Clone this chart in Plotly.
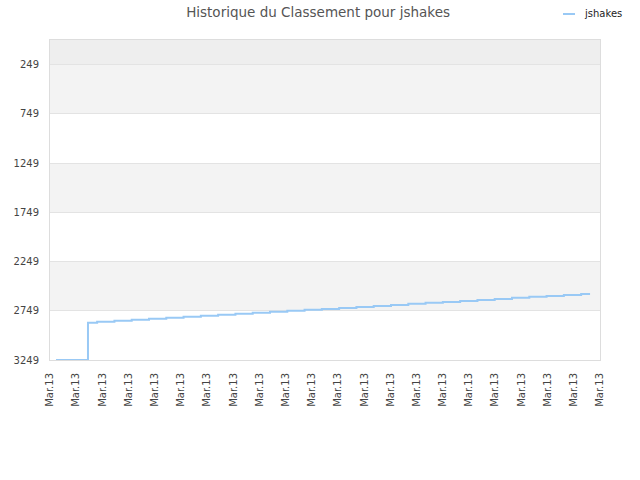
import plotly.graph_objects as go

# ---- data ----
x_pos = [0.23, 1.45, 1.80, 2.46, 3.12, 3.78, 4.44, 5.10, 5.76, 6.42, 7.08,
         7.74, 8.40, 9.06, 9.72, 10.38, 11.04, 11.70, 12.36, 13.02, 13.68,
         14.34, 15.00, 15.66, 16.32, 16.98, 17.64, 18.30, 18.96, 19.62,
         20.28, 20.62]
rank = [3249, 2871, 2861, 2851, 2841, 2831, 2820, 2810, 2800, 2790, 2780,
        2770, 2760, 2750, 2740, 2730, 2720, 2710, 2700, 2690, 2679, 2669,
        2659, 2649, 2639, 2629, 2618, 2608, 2598, 2588, 2578, 2578]
x_ticks = list(range(22))
x_labels = ["Mar.13"] * 22
y_ticks = [249, 749, 1249, 1749, 2249, 2749, 3249]
series_name = "jshakes"
title = "Historique du Classement pour jshakes"

FONT = "DejaVu Sans"
LINE_COLOR = "#99c9f5"

fig = go.Figure()
fig.add_trace(go.Scatter(
    x=x_pos, y=rank, mode="lines", name=series_name, showlegend=False,
    line=dict(color=LINE_COLOR, width=2, shape="hv"),
))

# alternating bands
bands = [(0, 249, "#eeeeee"), (249, 749, "#f3f3f3"), (1249, 1749, "#f3f3f3"),
         (2249, 2749, "#f3f3f3")]
for y0, y1, c in bands:
    fig.add_shape(type="rect", xref="paper", x0=0, x1=1, yref="y", y0=y0, y1=y1,
                  fillcolor=c, line=dict(width=0), layer="below")

# legend (drawn as a small line + real text label)
fig.add_shape(type="line", xref="paper", yref="paper",
              x0=(563 - 50) / 550, x1=(575 - 50) / 550,
              y0=(360 - 14) / 320, y1=(360 - 14) / 320,
              line=dict(color=LINE_COLOR, width=2))
fig.add_annotation(text=series_name, xref="paper", yref="paper",
                   x=(582 - 50) / 550, y=(360 - 14) / 320,
                   xanchor="left", yanchor="middle", showarrow=False,
                   font=dict(family=FONT, size=10, color="#222222"))

fig.update_layout(
    width=640, height=480,
    margin=dict(l=50, r=40, t=40, b=120, autoexpand=False),
    paper_bgcolor="white", plot_bgcolor="white",
    title=dict(text=title, x=0.497, xanchor="center", y=1 - 12 / 480, yanchor="middle",
               font=dict(family=FONT, size=13.5, color="#555555")),
    font=dict(family=FONT, size=10, color="#444444"),
    showlegend=False,
    xaxis=dict(range=[0, 21], tickmode="array", tickvals=x_ticks, ticktext=x_labels,
               tickangle=-90, showgrid=False, zeroline=False,
               showline=True, linecolor="#dddddd", linewidth=1, mirror=True,
               ticks="", ticklabelstandoff=8,
               tickfont=dict(family=FONT, size=10, color="#444444")),
    yaxis=dict(range=[3249, 0], tickmode="array", tickvals=y_ticks,
               showgrid=True, gridcolor="#e3e3e3", gridwidth=1, zeroline=False,
               showline=True, linecolor="#dddddd", linewidth=1, mirror=True,
               ticks="", ticklabelstandoff=8,
               tickfont=dict(family=FONT, size=10, color="#444444")),
)

fig.write_html("out.html", config={"displayModeBar": False},
               post_script="document.body.style.margin='0';")
